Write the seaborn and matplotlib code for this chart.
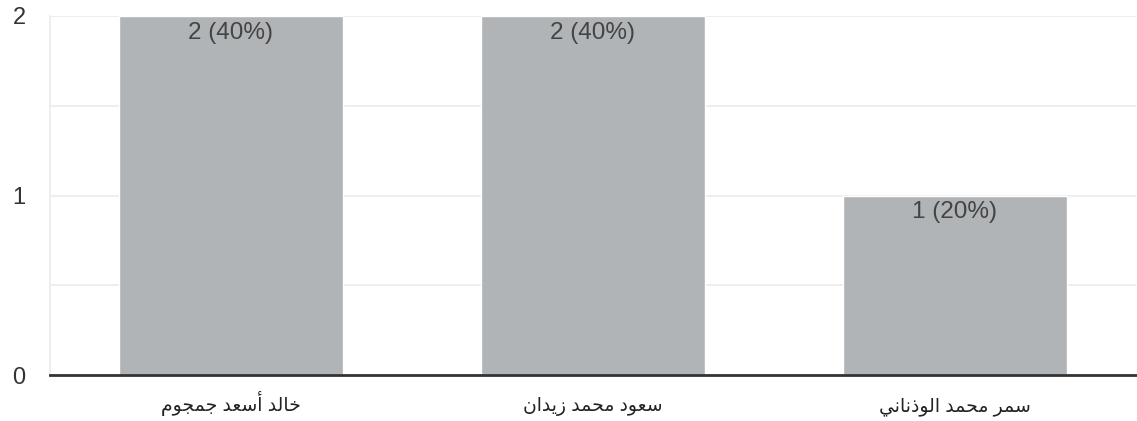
import matplotlib
matplotlib.use("Agg")
import matplotlib.pyplot as plt
import seaborn as sns
import pandas as pd

names = ["خالد أسعد جمجوم", "سعود محمد زيدان", "سمر محمد الوذناني"]
counts = [2, 2, 1]
total = 5

# Arabic letter forms: isolated, final, initial, medial (None = does not join forward)
FORMS = {
    "ا": ("\uFE8D", "\uFE8E", None, None),
    "أ": ("\uFE83", "\uFE84", None, None),
    "د": ("\uFEA9", "\uFEAA", None, None),
    "ذ": ("\uFEAB", "\uFEAC", None, None),
    "ر": ("\uFEAD", "\uFEAE", None, None),
    "ز": ("\uFEAF", "\uFEB0", None, None),
    "و": ("\uFEED", "\uFEEE", None, None),
    "ج": ("\uFE9D", "\uFE9E", "\uFE9F", "\uFEA0"),
    "ح": ("\uFEA1", "\uFEA2", "\uFEA3", "\uFEA4"),
    "خ": ("\uFEA5", "\uFEA6", "\uFEA7", "\uFEA8"),
    "س": ("\uFEB1", "\uFEB2", "\uFEB3", "\uFEB4"),
    "ع": ("\uFEC9", "\uFECA", "\uFECB", "\uFECC"),
    "ل": ("\uFEDD", "\uFEDE", "\uFEDF", "\uFEE0"),
    "م": ("\uFEE1", "\uFEE2", "\uFEE3", "\uFEE4"),
    "ن": ("\uFEE5", "\uFEE6", "\uFEE7", "\uFEE8"),
    "ي": ("\uFEF1", "\uFEF2", "\uFEF3", "\uFEF4"),
}


def shape(text):
    # join letters and flip to visual order, matplotlib has no bidi support
    out = []
    for word in text.split(" "):
        chars = []
        for i, c in enumerate(word):
            f = FORMS.get(c)
            if f is None:
                chars.append(c)
                continue
            prev = FORMS.get(word[i - 1]) if i > 0 else None
            nxt = FORMS.get(word[i + 1]) if i + 1 < len(word) else None
            join_prev = prev is not None and prev[2] is not None
            join_next = nxt is not None and f[2] is not None
            if join_prev and join_next:
                chars.append(f[3])
            elif join_prev:
                chars.append(f[1])
            elif join_next:
                chars.append(f[2])
            else:
                chars.append(f[0])
        out.append("".join(chars))
    return " ".join(out)[::-1]


df = pd.DataFrame({"name": [shape(n) for n in names], "count": counts})

sns.set_style("white")
plt.rcParams["font.family"] = ["Liberation Sans", "DejaVu Sans"]

fig = plt.figure(figsize=(11.37, 4.21), dpi=100)
ax = fig.add_axes([50 / 1137, 1 - 375 / 421, 1086 / 1137, 359 / 421])

sns.barplot(data=df, x="name", y="count", color="#b0b4b6", width=0.62,
            saturation=1, ax=ax, zorder=2)

ax.set_ylim(0, 2)
ax.set_xlim(-0.5, 2.5)
ax.set_yticks([0, 1, 2])
ax.set_yticks([0.5, 1.5], minor=True)
ax.grid(axis="y", which="both", color="#ebebeb", linewidth=1.2, zorder=0)
ax.set_xlabel("")
ax.set_ylabel("")

for s in ["top", "right"]:
    ax.spines[s].set_visible(False)
ax.spines["left"].set_color("#ebebeb")
ax.spines["left"].set_linewidth(1.2)
ax.spines["bottom"].set_color("#333333")
ax.spines["bottom"].set_linewidth(2)
ax.spines["bottom"].set_zorder(3)

ax.tick_params(axis="y", which="both", length=0, labelsize=17, labelcolor="#333333", pad=27)
ax.tick_params(axis="x", length=0, labelsize=13.5, labelcolor="#222222", pad=26)
for t in ax.get_yticklabels():
    t.set_horizontalalignment("left")
for t in ax.get_xticklabels():
    t.set_verticalalignment("baseline")

for i, c in enumerate(counts):
    ax.annotate(f"{c} ({c / total:.0%})", (i, c), xytext=(0, -4),
                textcoords="offset points", ha="center", va="top",
                fontsize=17.5, color="#444444", zorder=4)

fig.savefig("out.png", dpi=100)
